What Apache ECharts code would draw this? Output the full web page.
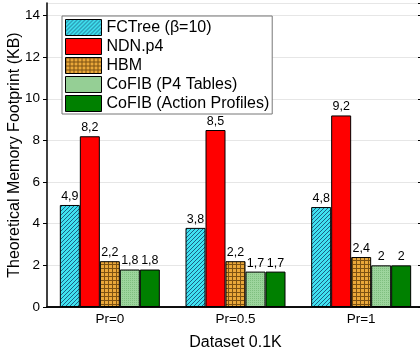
<!DOCTYPE html>
<html>
<head>
<meta charset="utf-8">
<title>Memory Footprint</title>
<script src="https://cdn.jsdelivr.net/npm/echarts@6/dist/echarts.min.js"></script>
<style>
  html, body { margin: 0; padding: 0; background: #fff; }
  #chart { width: 420px; height: 354px; }
</style>
</head>
<body>
<div id="chart"></div>
<script>
var categories = ['Pr=0', 'Pr=0.5', 'Pr=1'];
var seriesNames = ['FCTree (β=10)', 'NDN.p4', 'HBM', 'CoFIB (P4 Tables)', 'CoFIB (Action Profiles)'];
var fctree = [4.9, 3.8, 4.8];
var ndn = [8.2, 8.5, 9.2];
var hbm = [2.2, 2.2, 2.4];
var cofibTables = [1.8, 1.7, 2];
var cofibProfiles = [1.8, 1.7, 2];

// small canvas patterns to mimic the hatch fills
function makePattern(kind) {
    var c = document.createElement('canvas');
    var ctx = c.getContext('2d');
    if (kind === 'hatch') {
        c.width = 4; c.height = 4;
        ctx.fillStyle = '#3fe2f0';
        ctx.fillRect(0, 0, 4, 4);
        ctx.strokeStyle = '#1d5f84';
        ctx.lineWidth = 1;
        ctx.beginPath();
        ctx.moveTo(-1, 5); ctx.lineTo(5, -1);
        ctx.moveTo(-1, 1); ctx.lineTo(1, -1);
        ctx.moveTo(3, 5); ctx.lineTo(5, 3);
        ctx.stroke();
    } else if (kind === 'grid') {
        c.width = 4; c.height = 4;
        ctx.fillStyle = '#eaa83a';
        ctx.fillRect(0, 0, 4, 4);
        ctx.fillStyle = '#7d5212';
        ctx.fillRect(0, 0, 4, 1);
        ctx.fillRect(0, 0, 1, 4);
    } else {
        c.width = 2; c.height = 2;
        ctx.fillStyle = '#9dd59d';
        ctx.fillRect(0, 0, 2, 2);
        ctx.fillStyle = '#7fbf7f';
        ctx.fillRect(0, 0, 1, 1);
    }
    return { image: c, repeat: 'repeat' };
}

var fills = [makePattern('hatch'), '#ff0000', makePattern('grid'), makePattern('dots'), '#008000'];
var values = [fctree, ndn, hbm, cofibTables, cofibProfiles];

var chart = echarts.init(document.getElementById('chart'));

var series = seriesNames.map(function (name, i) {
    return {
        name: name,
        type: 'bar',
        data: values[i],
        barWidth: 20,
        barGap: '0%',
        itemStyle: { color: fills[i], borderColor: '#000', borderWidth: 1 },
        label: {
            show: true,
            position: 'top',
            distance: 2,
            color: '#000',
            fontSize: 12.5,
            fontFamily: 'Liberation Sans',
            formatter: function (p) { return String(p.value).replace('.', ','); }
        }
    };
});

var option = {
    animation: false,
    backgroundColor: '#fff',
    textStyle: { fontFamily: 'Liberation Sans' },
    grid: { left: 47, top: 3, width: 377, height: 304, show: false, outerBoundsMode: 'none', containLabel: false },
    legend: {
        data: seriesNames,
        orient: 'vertical',
        left: 62,
        top: 16,
        icon: 'rect',
        itemWidth: 36,
        itemHeight: 16,
        itemGap: 2,
        padding: [3, 3, 2, 3],
        borderColor: '#777',
        borderWidth: 1,
        backgroundColor: '#fff',
        textStyle: { fontSize: 16, color: '#000', lineHeight: 17, fontFamily: 'Liberation Sans' },
        itemStyle: { borderColor: '#000', borderWidth: 1 }
    },
    xAxis: [{
        type: 'category',
        data: categories,
        name: 'Dataset 0.1K',
        nameLocation: 'middle',
        nameGap: 28,
        nameMoveOverlap: false,
        nameTextStyle: { fontSize: 16, color: '#000' },
        axisLine: { lineStyle: { color: '#000', width: 1.5 } },
        axisTick: { show: false },
        axisLabel: { color: '#000', fontSize: 13.5, margin: 5 }
    }, {
        type: 'category',
        data: categories,
        position: 'top',
        axisLine: { lineStyle: { color: '#000', width: 1.5 } },
        axisTick: { show: false },
        axisLabel: { show: false }
    }],
    yAxis: [{
        type: 'value',
        min: 0,
        max: 14.6,
        interval: 2,
        name: 'Theoretical Memory Footprint (KB)',
        nameLocation: 'middle',
        nameGap: 24,
        nameMoveOverlap: false,
        nameTextStyle: { fontSize: 16, color: '#000' },
        axisLine: { show: true, lineStyle: { color: '#000', width: 1.5 } },
        axisTick: { show: true, length: 4, lineStyle: { color: '#000' } },
        axisLabel: { color: '#000', fontSize: 13.5, margin: 7, showMaxLabel: false },
        splitLine: { show: true, lineStyle: { color: '#e6e6e6', width: 1 } }
    }, {
        type: 'value',
        position: 'right',
        min: 0,
        max: 14.6,
        interval: 2,
        axisLine: { show: true, lineStyle: { color: '#000', width: 1.5 } },
        axisTick: { show: true, inside: true, length: 6, lineStyle: { color: '#000' } },
        axisLabel: { show: false },
        splitLine: { show: false }
    }],
    series: series
};

chart.setOption(option);
</script>
</body>
</html>
